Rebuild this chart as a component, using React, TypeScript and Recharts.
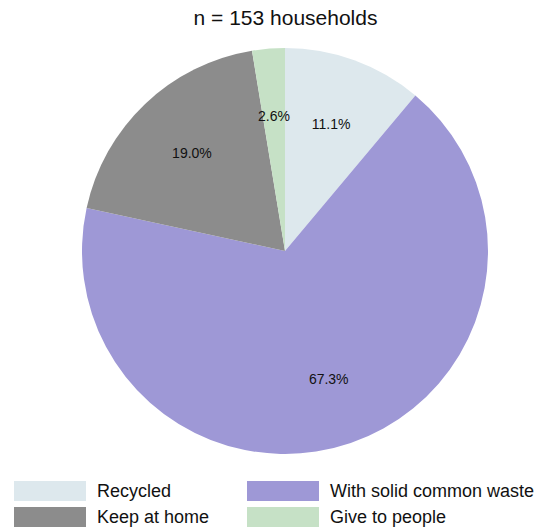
import { PieChart, Pie, Cell } from 'recharts';

const categories = ['Recycled', 'With solid common waste', 'Keep at home', 'Give to people'];
const shares = [11.1, 67.3, 19.0, 2.6];
const colors = ['#dde8ed', '#9e98d6', '#8c8c8c', '#c6e1c6'];

const data = categories.map((name, i) => ({ name, value: shares[i] }));

const RADIAN = Math.PI / 180;
const FONT = "'Liberation Sans', Arial, sans-serif";

const renderLabel = (props: any) => {
  const { cx, cy, midAngle, outerRadius, value } = props;
  const r = outerRadius * 0.665;
  const x = cx + r * Math.cos(-midAngle * RADIAN);
  const y = cy + r * Math.sin(-midAngle * RADIAN);
  return (
    <text x={x} y={y} textAnchor="middle" dominantBaseline="central" fontSize={14} fill="#111" fontFamily={FONT}>
      {`${value.toFixed(1)}%`}
    </text>
  );
};

export default function App() {
  return (
    <div style={{ position: 'absolute', left: 0, top: 0, width: 545, height: 530, background: '#fff', overflow: 'hidden' }}>
      <div
        style={{
          position: 'absolute',
          top: 6,
          left: 0,
          width: 571,
          textAlign: 'center',
          fontFamily: FONT,
          fontSize: 21,
          color: '#111',
        }}
      >
        n = 153 households
      </div>
      <PieChart width={545} height={530} margin={{ top: 0, right: 0, bottom: 0, left: 0 }}>
        <Pie
          data={data}
          dataKey="value"
          nameKey="name"
          cx={285}
          cy={251}
          outerRadius={203}
          startAngle={90}
          endAngle={-270}
          stroke="none"
          label={renderLabel}
          labelLine={false}
          isAnimationActive={false}
        >
          {data.map((d, i) => (
            <Cell key={d.name} fill={colors[i]} />
          ))}
        </Pie>
      </PieChart>
      <div
        style={{
          position: 'absolute',
          top: 481,
          left: 14,
          display: 'grid',
          gridTemplateColumns: '233px 298px',
          rowGap: 6,
          fontFamily: FONT,
          fontSize: 18,
          color: '#111',
        }}
      >
        {categories.map((c, i) => (
          <div key={c} style={{ display: 'flex', alignItems: 'center', height: 20, whiteSpace: 'nowrap' }}>
            <span style={{ display: 'inline-block', width: 72, height: 20, background: colors[i], marginRight: 11 }} />
            <span>{c}</span>
          </div>
        ))}
      </div>
    </div>
  );
}
